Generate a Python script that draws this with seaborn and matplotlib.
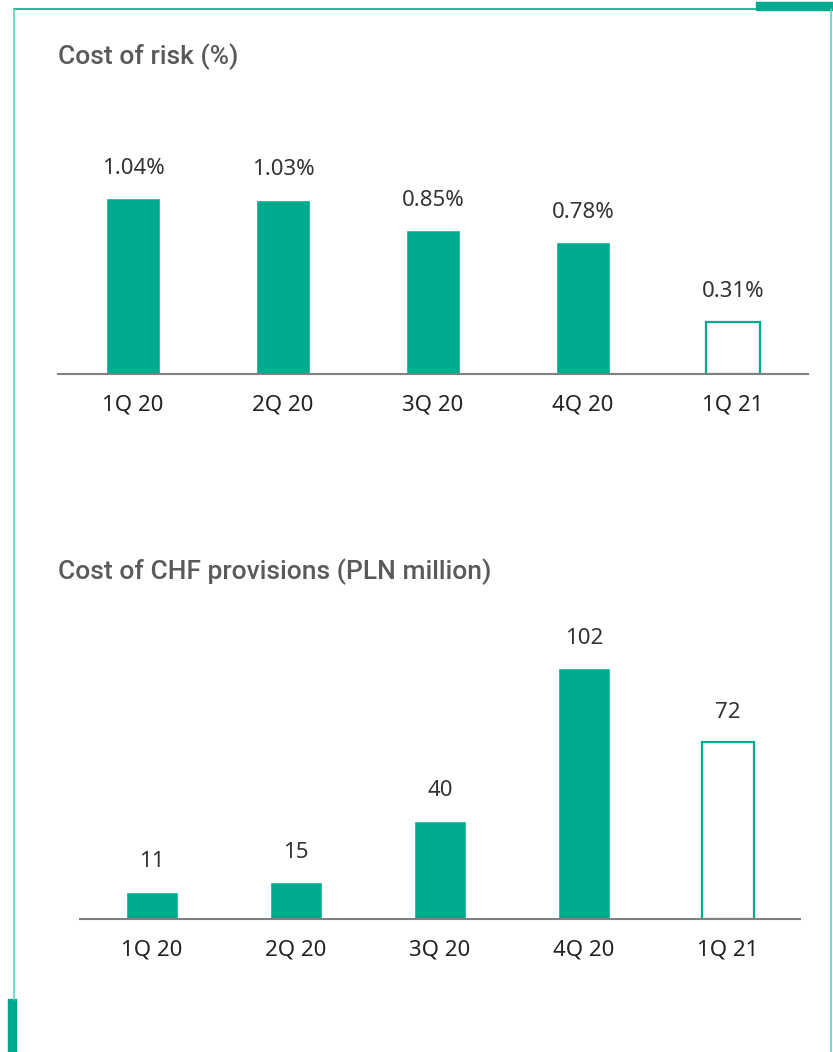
import matplotlib
matplotlib.use("Agg")
import matplotlib.pyplot as plt
from matplotlib.lines import Line2D
from matplotlib.patches import Rectangle
import seaborn as sns

# ==============================
# Datos
# ==============================
quarters = ["1Q 20", "2Q 20", "3Q 20", "4Q 20", "1Q 21"]
cost_of_risk = [1.04, 1.03, 0.85, 0.78, 0.31]
chf_provisions = [11, 15, 40, 102, 72]

risk_labels = ["1.04%", "1.03%", "0.85%", "0.78%", "0.31%"]
chf_labels = ["11", "15", "40", "102", "72"]

teal = "#00AA8E"
frame_light = "#5CCFBE"
title_color = "#5A5A5A"

sns.set_theme(style="white")
plt.rcParams["font.family"] = ["Noto Sans", "DejaVu Sans"]

W, H = 833, 1052
fig = plt.figure(figsize=(W / 100, H / 100), dpi=100)


def draw_panel(ax, values, labels, ymax):
    sns.barplot(x=quarters, y=values, color=teal, width=0.36, saturation=1,
                ax=ax)
    last = ax.patches[-1]
    last.set_facecolor("white")
    last.set_edgecolor(teal)
    last.set_linewidth(1.6)
    for p, lab in zip(ax.patches, labels):
        ax.annotate(lab, (p.get_x() + p.get_width() / 2, p.get_height()),
                    xytext=(0, 30), textcoords="offset pixels",
                    ha="center", va="center", fontsize=16, fontweight="light",
                    color="#333333", annotation_clip=False)
    ax.set_xlim(-0.5, 4.5)
    ax.set_ylim(0, ymax)
    ax.set_yticks([])
    ax.set_xlabel("")
    ax.set_ylabel("")
    for s in ["top", "left", "right"]:
        ax.spines[s].set_visible(False)
    ax.spines["bottom"].set_color("#808080")
    ax.spines["bottom"].set_linewidth(1.5)
    ax.tick_params(axis="x", length=0, pad=15, labelsize=16,
                   labelcolor="#222222")
    for t in ax.get_xticklabels():
        t.set_fontweight("light")


# Cost of risk
ax1 = fig.add_axes([58 / W, 1 - 374 / H, 750 / W, 220 / H])
draw_panel(ax1, cost_of_risk, risk_labels, 1.3)

# Cost of CHF provisions
ax2 = fig.add_axes([80 / W, 1 - 919 / H, 720 / W, 295 / H])
draw_panel(ax2, chf_provisions, chf_labels, 120)

# Titulos
fig.text(58 / W, 1 - 57 / H, "Cost of risk (%)", fontsize=19,
         fontweight="medium", color=title_color, va="center", ha="left",
         family=["Roboto", "DejaVu Sans"])
fig.text(58 / W, 1 - 572 / H, "Cost of CHF provisions (PLN million)",
         fontsize=19, fontweight="medium", color=title_color, va="center",
         ha="left", family=["Roboto", "DejaVu Sans"])

# Marco decorativo
fig.add_artist(Line2D([14 / W, 757 / W], [1 - 9 / H, 1 - 9 / H],
                      color=teal, lw=1.2, transform=fig.transFigure))
fig.add_artist(Line2D([14 / W, 14 / W], [1 - 9 / H, 1 - 1000 / H],
                      color=frame_light, lw=1.2, transform=fig.transFigure))
fig.add_artist(Line2D([831 / W, 831 / W], [1 - 9 / H, 0],
                      color=frame_light, lw=1.2, transform=fig.transFigure))
fig.add_artist(Rectangle((756 / W, 1 - 10 / H), 77 / W, 8 / H,
                         color=teal, transform=fig.transFigure))
fig.add_artist(Rectangle((8 / W, 0), 8 / W, 53 / H,
                         color=teal, transform=fig.transFigure))

fig.savefig("out.png", dpi=100)
